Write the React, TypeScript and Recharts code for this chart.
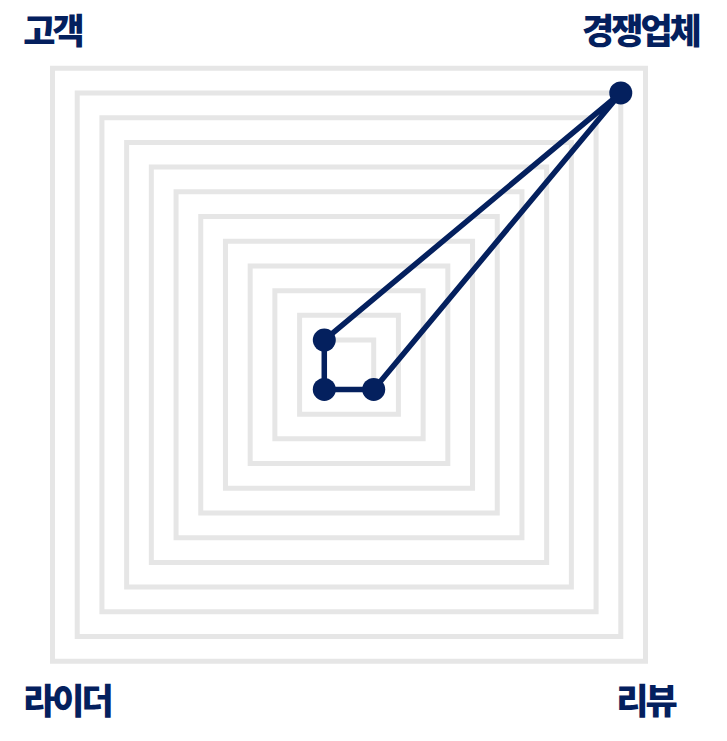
import React from 'react';
import { RadarChart, Radar, PolarGrid, PolarAngleAxis, PolarRadiusAxis } from 'recharts';

const categories = ['고객', '경쟁업체', '리뷰', '라이더'];
const values = [1, 11, 1, 1];
const ringTicks = [1, 2, 3, 4, 5, 6, 7, 8, 9, 10, 11, 12];
const radiusDomain = [0.14, 12];

const data = categories.map((c, i) => ({ subject: c, value: values[i] }));

const NAVY = '#04205e';
const W = 727;
const H = 741;
const CX = 349;
const CY = 364.75;
const R = 419.3;
const FONT = 35;
const CHAR_W = 31.3;

const renderTick = (props: any) => {
  const { payload } = props;
  const label: string = payload.value;
  const ang = (payload.coordinate * Math.PI) / 180;
  const cornerX = CX + R * Math.cos(ang);
  const cornerY = CY - R * Math.sin(ang);
  const w = label.length * CHAR_W;
  let x = cornerX;
  x = Math.max(x, 20 + w / 2);
  x = Math.min(x, 703 - w / 2);
  const y = cornerY < CY ? cornerY - 40 : cornerY + 37;
  return (
    <text
      x={x}
      y={y}
      textAnchor="middle"
      dominantBaseline="central"
      fill={NAVY}
      style={{
        fontFamily: '"Noto Sans CJK KR", "Noto Sans", sans-serif',
        fontWeight: 900,
        fontSize: FONT,
        letterSpacing: -3,
      }}
    >
      {label}
    </text>
  );
};

export default function App() {
  return (
    <div style={{ width: W, height: H, marginTop: -8, marginLeft: -8 }}>
      <RadarChart
        width={W}
        height={H}
        data={data}
        cx={CX}
        cy={CY}
        outerRadius={R}
        startAngle={135}
        endAngle={-225}
        margin={{ top: 0, right: 0, bottom: 0, left: 0 }}
      >
        <PolarGrid gridType="polygon" radialLines={false} stroke="#e6e6e6" strokeWidth={5} />
        <PolarAngleAxis dataKey="subject" tick={renderTick} tickLine={false} axisLine={false} />
        <PolarRadiusAxis
          type="number"
          domain={radiusDomain}
          ticks={ringTicks}
          tick={false}
          axisLine={false}
        />
        <Radar
          dataKey="value"
          stroke={NAVY}
          strokeWidth={5.5}
          strokeLinejoin="round"
          fill="none"
          fillOpacity={0}
          dot={{ r: 11.5, fill: NAVY, stroke: NAVY, strokeWidth: 0, fillOpacity: 1 }}
          isAnimationActive={false}
        />
      </RadarChart>
    </div>
  );
}
